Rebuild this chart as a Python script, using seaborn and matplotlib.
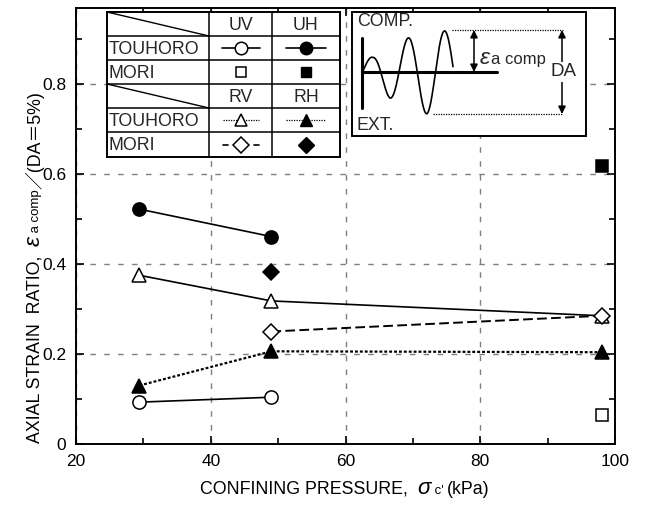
import numpy as np
import pandas as pd
import seaborn as sns
import matplotlib
matplotlib.use("Agg")
import matplotlib.pyplot as plt
from matplotlib.ticker import MultipleLocator
from matplotlib.patches import Rectangle

# ---------------- data ----------------
touhoro_u_pressure = [29.4, 49.0]
touhoro_uv = [0.093, 0.104]
touhoro_uh = [0.522, 0.461]
touhoro_r_pressure = [29.4, 49.0, 98.0]
touhoro_rv = [0.375, 0.318, 0.285]
touhoro_rh = [0.130, 0.206, 0.204]
mori_u_pressure = [98.0]
mori_uv = [0.064]
mori_uh = [0.618]
mori_rv_pressure = [49.0, 98.0]
mori_rv = [0.250, 0.285]
mori_rh_pressure = [49.0]
mori_rh = [0.383]

x_ticks = [20, 40, 60, 80, 100]
x_tick_labels = ["20", "40", "60", "80", "100"]
y_ticks = [0, 0.2, 0.4, 0.6, 0.8]
y_tick_labels = ["0", "0.2", "0.4", "0.6", "0.8"]

series = [
    ("TOUHORO UV", touhoro_u_pressure, touhoro_uv),
    ("TOUHORO UH", touhoro_u_pressure, touhoro_uh),
    ("MORI UV", mori_u_pressure, mori_uv),
    ("MORI UH", mori_u_pressure, mori_uh),
    ("TOUHORO RV", touhoro_r_pressure, touhoro_rv),
    ("TOUHORO RH", touhoro_r_pressure, touhoro_rh),
    ("MORI RV", mori_rv_pressure, mori_rv),
    ("MORI RH", mori_rh_pressure, mori_rh),
]
df = pd.concat([pd.DataFrame({"series": n, "pressure": x, "ratio": y})
                for n, x, y in series], ignore_index=True)

styles = {
    "TOUHORO UV": dict(marker="o", mfc="white", ms=9.5, ls="-", lw=1.2),
    "TOUHORO UH": dict(marker="o", mfc="black", ms=9.5, ls="-", lw=1.2),
    "MORI UV": dict(marker="s", mfc="white", ms=8, ls="none", lw=1.2),
    "MORI UH": dict(marker="s", mfc="black", ms=8, ls="none", lw=1.2),
    "TOUHORO RV": dict(marker="^", mfc="white", ms=9.5, ls="-", lw=1.2),
    "TOUHORO RH": dict(marker="^", mfc="black", ms=9.5, ls=(0, (1.3, 0.9)), lw=1.6),
    "MORI RV": dict(marker="D", mfc="white", ms=8.5, ls=(0, (5, 2.2)), lw=1.4),
    "MORI RH": dict(marker="D", mfc="black", ms=8.5, ls="none", lw=1.2),
}

W, H, DPI = 645, 507, 100
sns.set_style("ticks")
plt.rcParams["font.family"] = ["Liberation Sans", "Noto Sans CJK JP", "DejaVu Sans"]

fig = plt.figure(figsize=(W / DPI, H / DPI), dpi=DPI)
L_px, R_px, T_px, B_px = 76, 615, 8, 444
ax = fig.add_axes([L_px / W, (H - B_px) / H, (R_px - L_px) / W, (B_px - T_px) / H])

for name, sub in df.groupby("series", sort=False):
    st = styles[name]
    sns.lineplot(data=sub, x="pressure", y="ratio", ax=ax, color="black",
                 marker=st["marker"], markerfacecolor=st["mfc"],
                 markeredgecolor="black", markeredgewidth=1.1,
                 markersize=st["ms"], linestyle=st["ls"], linewidth=st["lw"],
                 zorder=3)

ax.set_xlim(20, 100)
ax.set_ylim(0, 0.969)
ax.set_xticks(x_ticks)
ax.set_xticklabels(x_tick_labels)
ax.set_yticks(y_ticks)
ax.set_yticklabels(y_tick_labels)
ax.xaxis.set_minor_locator(MultipleLocator(10))
ax.yaxis.set_minor_locator(MultipleLocator(0.1))
ax.tick_params(which="both", direction="in", top=True, right=True,
               color="black", width=1.2, labelsize=12.5, labelcolor="black")
ax.tick_params(which="major", length=6, pad=7)
ax.tick_params(which="minor", length=4)
ax.grid(True, which="major", color="#7f7f7f", linestyle=(0, (4, 6)), linewidth=1.0)
for sp in ax.spines.values():
    sp.set_visible(True)
    sp.set_color("black")
    sp.set_linewidth(1.4)
ax.set_xlabel("")
ax.set_ylabel("")

# ---------------- composite axis labels ----------------
renderer = fig.canvas.get_renderer()


def chain(pieces, x0, y0, rotation=0, center=True):
    """pieces: (text, fontsize, style, baseline offset px). x0,y0 display px (y up)."""
    widths = []
    for s, fs, style, off in pieces:
        t = fig.text(0, 0, s, fontsize=fs, style=style)
        bb = t.get_window_extent(renderer)
        widths.append(bb.width)
        t.remove()
    total = sum(widths)
    pos = -total / 2 if center else 0
    for (s, fs, style, off), w in zip(pieces, widths):
        if rotation == 0:
            x, y = x0 + pos, y0 + off
        else:
            x, y = x0 - off, y0 + pos
        fig.text(x / W, y / H, s, fontsize=fs, style=style, rotation=rotation,
                 rotation_mode="anchor", ha="left", va="baseline", color="black")
        pos += w


FS = 12.8
chain([("CONFINING PRESSURE,  ", FS, "normal", 0),
       ("σ", 16, "italic", 0),
       (" c' ", 9.5, "normal", 0),
       ("(kPa)", FS, "normal", 0)],
      345, H - 494)

chain([("AXIAL STRAIN  RATIO,  ", FS, "normal", 0),
       ("ε", 16.5, "italic", 0),
       (" a comp", 9.5, "normal", 1),
       ("／(DA＝5%)", FS, "normal", 0)],
      40, H - 267, rotation=90)

# ---------------- overlay (legend table + schematic) ----------------
ov = fig.add_axes([0, 0, 1, 1], zorder=5)
ov.set_xlim(0, W)
ov.set_ylim(H, 0)
ov.axis("off")
ov.patch.set_alpha(0)

# legend table
tl, tr, tt, tb = 107, 340, 12, 157
c1, c2 = 209, 272
rows = [12, 36, 60, 84, 108, 132, 157]
ov.add_patch(Rectangle((tl, tt), tr - tl, tb - tt, fc="white", ec="black", lw=1.4))
for y in rows[1:-1]:
    ov.plot([tl, tr], [y, y], color="black", lw=1.1)
for x in (c1, c2):
    ov.plot([x, x], [tt, tb], color="black", lw=1.1)
ov.plot([tl, c1], [rows[0], rows[1]], color="black", lw=1.0)
ov.plot([tl, c1], [rows[3], rows[4]], color="black", lw=1.0)

mx1, mx2 = (c1 + c2) / 2, (c2 + tr) / 2
for lab, yy in (("UV", 0), ("RV", 3)):
    ov.text(mx1, (rows[yy] + rows[yy + 1]) / 2 + 1, lab, ha="center", va="center", fontsize=FS)
for lab, yy in (("UH", 0), ("RH", 3)):
    ov.text(mx2, (rows[yy] + rows[yy + 1]) / 2 + 1, lab, ha="center", va="center", fontsize=FS)
for lab, yy in (("TOUHORO", 1), ("MORI", 2), ("TOUHORO", 4), ("MORI", 5)):
    ov.text(tl + 2, (rows[yy] + rows[yy + 1]) / 2 + 1, lab, ha="left", va="center", fontsize=FS)

r1 = (rows[1] + rows[2]) / 2
r2 = (rows[2] + rows[3]) / 2
r4 = (rows[4] + rows[5]) / 2
r5 = (rows[5] + rows[6]) / 2
# TOUHORO UV / UH
ov.plot([mx1 - 19, mx1 + 19], [r1, r1], color="black", lw=1.2)
ov.plot([mx1], [r1], marker="o", ms=9, mfc="white", mec="black", mew=1.1)
ov.plot([mx2 - 20, mx2 + 20], [r1, r1], color="black", lw=1.2)
ov.plot([mx2], [r1], marker="o", ms=9, mfc="black", mec="black")
# MORI UV / UH
ov.plot([mx1], [r2], marker="s", ms=7, mfc="white", mec="black", mew=1.1)
ov.plot([mx2], [r2], marker="s", ms=7, mfc="black", mec="black")
# TOUHORO RV / RH
ov.plot([mx1 - 18, mx1 + 18], [r4, r4], color="black", lw=0.9, ls=(0, (1, 1)))
ov.plot([mx1], [r4], marker="^", ms=9, mfc="white", mec="black", mew=1.1)
ov.plot([mx2 - 20, mx2 + 20], [r4, r4], color="black", lw=0.9, ls=(0, (1, 1)))
ov.plot([mx2], [r4], marker="^", ms=9, mfc="black", mec="black")
# MORI RV / RH
ov.plot([mx1 - 18, mx1 - 13], [r5, r5], color="black", lw=1.2)
ov.plot([mx1 + 13, mx1 + 18], [r5, r5], color="black", lw=1.2)
ov.plot([mx1], [r5], marker="D", ms=8.5, mfc="white", mec="black", mew=1.1)
ov.plot([mx2], [r5], marker="D", ms=8.5, mfc="black", mec="black")

# schematic box
bl, br, bt, bb = 352, 586, 12, 136
ov.add_patch(Rectangle((bl, bt), br - bl, bb - bt, fc="white", ec="black", lw=1.4))
ov.text(357, 22, "COMP.", ha="left", va="center", fontsize=FS)
ov.text(357, 126, "EXT.", ha="left", va="center", fontsize=FS)
ov.plot([362, 362], [38, 108], color="black", lw=2.2)
ov.plot([362, 497], [72, 72], color="black", lw=2.2)
wx = np.linspace(362, 453, 300)
amp = np.interp(wx, [362, 373, 390, 408, 427, 447, 453], [13, 15, 26, 34, 42, 41, 41])
wy = 72 - amp * np.sin(2 * np.pi * (wx - 362.5) / 36.5)
ov.plot(wx, wy, color="black", lw=1.2)
ov.plot([452, 563], [30, 30], color="black", lw=0.9, ls=(0, (1, 1)))
ov.plot([433, 563], [114, 114], color="black", lw=0.9, ls=(0, (1, 1)))
ov.annotate("", xy=(474, 30), xytext=(474, 72),
            arrowprops=dict(arrowstyle="<|-|>", color="black", lw=1.1,
                            mutation_scale=11, shrinkA=0, shrinkB=0))
ov.annotate("", xy=(562, 30), xytext=(562, 114),
            arrowprops=dict(arrowstyle="<|-|>", color="black", lw=1.1,
                            mutation_scale=11, shrinkA=0, shrinkB=0))
ov.text(563, 72, "DA", ha="center", va="center", fontsize=13.5,
        bbox=dict(fc="white", ec="none", pad=1))
ov.text(480, 64, "ε", ha="left", va="baseline", fontsize=16.5, style="italic")
ov.text(491, 64, "a comp", ha="left", va="baseline", fontsize=12)

fig.savefig("out.png", dpi=DPI)
